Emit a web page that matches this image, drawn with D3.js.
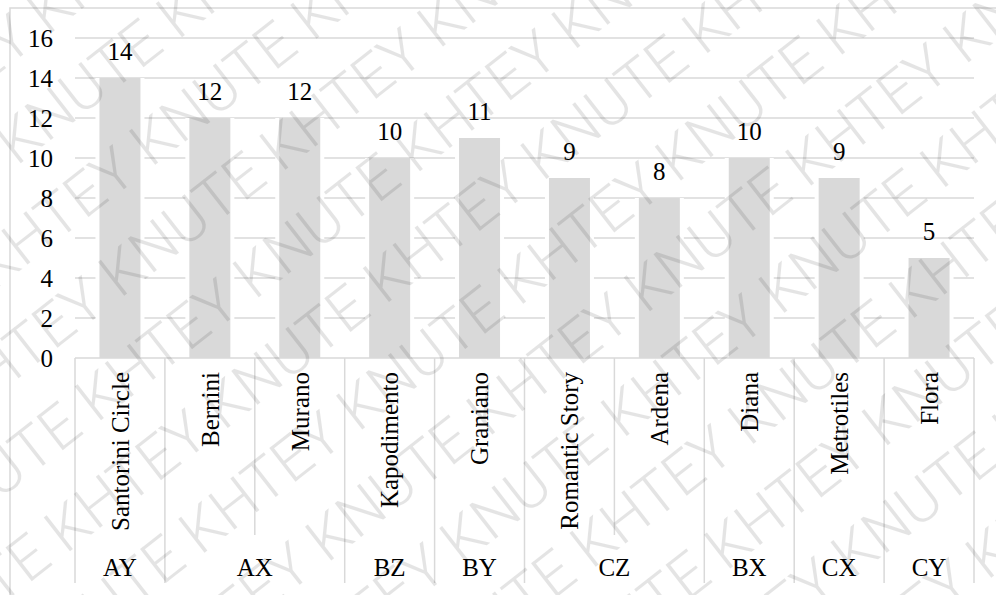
<!DOCTYPE html>
<html>
<head>
<meta charset="utf-8">
<script src="https://cdnjs.cloudflare.com/ajax/libs/d3/7.8.5/d3.min.js"></script>
<style>
  body { margin: 0; background: #fff; }
  svg { display: block; }
  text { font-family: "Liberation Serif", "Times New Roman", serif; fill: #000; }
</style>
</head>
<body>
<svg width="996" height="595"></svg>
<script>
// chart data
var names = ["Santorini Circle", "Bernini", "Murano", "Kapodimento", "Graniano",
             "Romantic Story", "Ardena", "Diana", "Metrotiles", "Flora"];
var groups = ["AY", "AX", "AX", "BZ", "BY", "CZ", "CZ", "BX", "CX", "CY"];
var values = [14, 12, 12, 10, 11, 9, 8, 10, 9, 5];
var yTicks = [0, 2, 4, 6, 8, 10, 12, 14, 16];
var watermarkWords = ["KHTEY", "KNUTE"];

function main(){
    var svg = d3.select("svg"),
        width = +svg.attr("width"),
        height = +svg.attr("height");

    var left = 75, right = 974, top = 38, bottom = 358;
    var grid = "#d9d9d9";

    // outer frame (only top and left edges fall inside the view)
    svg.append("path")
        .attr("d", "M10,596V8H1000")
        .attr("fill", "none")
        .attr("stroke", grid)
        .attr("stroke-width", 1.5);

    var x = d3.scaleBand().domain(d3.range(names.length))
        .range([left, right]).paddingInner(0.544).paddingOuter(0.272);
    var y = d3.scaleLinear().domain([0, 16]).range([bottom, top]);

    // gridlines
    svg.append("g").selectAll("line")
        .data(yTicks.slice(1))
        .enter().append("line")
        .attr("x1", left).attr("x2", right)
        .attr("y1", function(d){ return y(d); })
        .attr("y2", function(d){ return y(d); })
        .attr("stroke", grid)
        .attr("stroke-width", 1.5);

    // y tick labels
    svg.append("g").selectAll("text")
        .data(yTicks)
        .enter().append("text")
        .attr("x", 53)
        .attr("y", function(d){ return y(d); })
        .attr("dy", "0.35em")
        .attr("text-anchor", "end")
        .attr("font-size", "25px")
        .text(function(d){ return d; });

    // white halo behind bars so gridlines break around them
    svg.append("g").selectAll("rect")
        .data(values)
        .enter().append("rect")
        .attr("x", function(d, i){ return x(i) - 4; })
        .attr("y", function(d){ return y(d); })
        .attr("width", x.bandwidth() + 8)
        .attr("height", function(d){ return bottom - y(d); })
        .attr("fill", "#fff");

    svg.append("g").selectAll(".bar")
        .data(values)
        .enter().append("rect")
        .attr("class", "bar")
        .attr("x", function(d, i){ return x(i); })
        .attr("y", function(d){ return y(d); })
        .attr("width", x.bandwidth())
        .attr("height", function(d){ return bottom - y(d); })
        .attr("fill", "#d9d9d9");

    // value labels
    svg.append("g").selectAll("text")
        .data(values)
        .enter().append("text")
        .attr("x", function(d, i){ return x(i) + x.bandwidth() / 2; })
        .attr("y", function(d){ return y(d) - 18; })
        .attr("text-anchor", "middle")
        .attr("font-size", "25px")
        .text(function(d){ return d; });

    // category axis line
    svg.append("line")
        .attr("x1", left).attr("x2", right)
        .attr("y1", bottom).attr("y2", bottom)
        .attr("stroke", grid).attr("stroke-width", 1.5);

    // separators: long between groups, short inside a group
    var step = x.step();
    var seps = d3.range(names.length + 1).map(function(i){
        var inside = i > 0 && i < names.length && groups[i] === groups[i - 1];
        return { x: left + i * step, end: inside ? 535 : 583 };
    });
    svg.append("g").selectAll("line")
        .data(seps)
        .enter().append("line")
        .attr("x1", function(d){ return d.x; })
        .attr("x2", function(d){ return d.x; })
        .attr("y1", bottom)
        .attr("y2", function(d){ return d.end; })
        .attr("stroke", grid).attr("stroke-width", 1.5);

    // rotated item names
    svg.append("g").selectAll("text")
        .data(names)
        .enter().append("text")
        .attr("transform", function(d, i){
            return "translate(" + (x(i) + x.bandwidth() / 2) + ",372) rotate(-90)";
        })
        .attr("dy", "0.35em")
        .attr("text-anchor", "end")
        .attr("font-size", "25px")
        .text(function(d){ return d; });

    // group labels
    var runs = [];
    groups.forEach(function(g, i){
        if (runs.length && runs[runs.length - 1].name === g) runs[runs.length - 1].last = i;
        else runs.push({ name: g, first: i, last: i });
    });
    svg.append("g").selectAll("text")
        .data(runs)
        .enter().append("text")
        .attr("x", function(d){ return left + (d.first + d.last + 1) / 2 * step; })
        .attr("y", 576)
        .attr("text-anchor", "middle")
        .attr("font-size", "25px")
        .text(function(d){ return d.name; });

    // watermark, clipped to the page
    svg.append("clipPath").attr("id", "page")
        .append("rect").attr("width", width).attr("height", height);
    var wm = svg.append("g")
        .attr("clip-path", "url(#page)")
        .append("g")
        .attr("transform", "rotate(-38 498 298)")
        .attr("opacity", 0.1);
    var rows = d3.range(-6, 7);
    wm.selectAll("text")
        .data(rows)
        .enter().append("text")
        .attr("x", function(r){ return -300 + (Math.abs(r) % 2) * 95; })
        .attr("y", function(r){ return 318 + r * 84; })
        .attr("font-size", "60px")
        .attr("font-weight", 300)
        .style("font-family", "Roboto, 'Open Sans', sans-serif")
        .style("fill", "#000")
        .text(function(r){
            var s = [];
            for (var k = 0; k < 9; k++) s.push(watermarkWords[(k + Math.abs(r)) % 2]);
            return s.join(" ");
        });
}
main();
</script>
</body>
</html>
